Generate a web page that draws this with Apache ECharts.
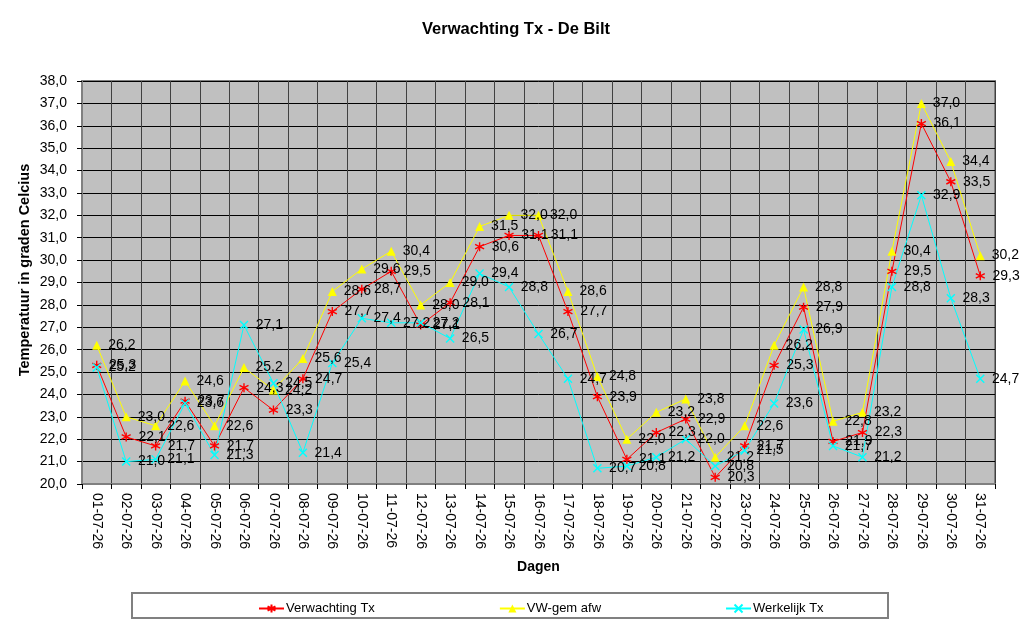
<!DOCTYPE html>
<html lang="nl">
  <head>
    <meta charset="UTF-8" />
    <title>Verwachting Tx - De Bilt</title>
    <style>
      body {
        margin: 0;
        background: #fff;
      }
      #chart {
        width: 1024px;
        height: 627px;
      }
    </style>
    <script src="https://cdn.jsdelivr.net/npm/echarts@6/dist/echarts.min.js"></script>
  </head>
  <body>
    <div id="chart"></div>
    <script>
      // dagen
      const dagen = [
        "01-07-26", "02-07-26", "03-07-26", "04-07-26", "05-07-26", "06-07-26",
        "07-07-26", "08-07-26", "09-07-26", "10-07-26", "11-07-26", "12-07-26",
        "13-07-26", "14-07-26", "15-07-26", "16-07-26", "17-07-26", "18-07-26",
        "19-07-26", "20-07-26", "21-07-26", "22-07-26", "23-07-26", "24-07-26",
        "25-07-26", "26-07-26", "27-07-26", "28-07-26", "29-07-26", "30-07-26",
        "31-07-26",
      ];
      const verwachting = [
        25.3, 22.1, 21.7, 23.7, 21.7, 24.3, 23.3, 24.7, 27.7, 28.7, 29.5, 27.1,
        28.1, 30.6, 31.1, 31.1, 27.7, 23.9, 21.1, 22.3, 22.9, 20.3, 21.7, 25.3,
        27.9, 21.9, 22.3, 29.5, 36.1, 33.5, 29.3,
      ];
      const vwGemAfw = [
        26.2, 23.0, 22.6, 24.6, 22.6, 25.2, 24.2, 25.6, 28.6, 29.6, 30.4, 28.0,
        29.0, 31.5, 32.0, 32.0, 28.6, 24.8, 22.0, 23.2, 23.8, 21.2, 22.6, 26.2,
        28.8, 22.8, 23.2, 30.4, 37.0, 34.4, 30.2,
      ];
      const werkelijk = [
        25.2, 21.0, 21.1, 23.6, 21.3, 27.1, 24.5, 21.4, 25.4, 27.4, 27.2, 27.2,
        26.5, 29.4, 28.8, 26.7, 24.7, 20.7, 20.8, 21.2, 22.0, 20.8, 21.5, 23.6,
        26.9, 21.7, 21.2, 28.8, 32.9, 28.3, 24.7,
      ];

      const font = "Liberation Sans, Arial, sans-serif";
      const komma = (v) => Number(v).toFixed(1).replace(".", ",");

      const sterPad = "path://M5,0L5,10M0,2.5L10,7.5M0,7.5L10,2.5";
      const kruisPad = "path://M0,0L10,10M10,0L0,10";

      function reeks(name, data, color, symbol, size, filled) {
        return {
          name: name,
          type: "line",
          data: data,
          symbol: symbol,
          symbolSize: size,
          lineStyle: { color: color, width: 1 },
          itemStyle: {
            color: filled ? color : "rgba(0,0,0,0)",
            borderColor: color,
            borderWidth: filled ? 0 : 1.4,
          },
          label: {
            show: true,
            position: "right",
            distance: 7,
            color: "#000",
            fontFamily: font,
            fontSize: 14,
            formatter: (p) => komma(p.value),
          },
          emphasis: { disabled: true },
          animation: false,
        };
      }

      var myChart = echarts.init(document.getElementById("chart"));
      myChart.setOption({
        backgroundColor: "#fff",
        title: {
          text: "Verwachting Tx - De Bilt",
          left: 511,
          textAlign: "center",
          top: 16,
          textStyle: { fontFamily: font, fontSize: 16.5, fontWeight: "bold", color: "#000" },
        },
        graphic: [
          {
            type: "rect",
            shape: { x: 132, y: 593, width: 756, height: 25 },
            style: { fill: "#fff", stroke: "#808080", lineWidth: 2 },
            z: 0,
          },
          {
            // y-as titel
            type: "text",
            x: 25,
            y: 270,
            rotation: Math.PI / 2,
            style: {
              text: "Temperatuur in graden Celcius",
              fontFamily: font,
              fontSize: 14.5,
              fontWeight: "bold",
              fill: "#000",
              align: "center",
              verticalAlign: "middle",
            },
          },
        ],
        legend: {
          left: 253,
          top: 597,
          itemGap: 124,
          itemWidth: 25,
          itemHeight: 10,
          textStyle: { fontFamily: font, fontSize: 13, color: "#000", padding: [0, 0, 0, -3] },
          data: ["Verwachting Tx", "VW-gem afw", "Werkelijk Tx"],
          selectedMode: false,
        },
        grid: {
          left: 82,
          top: 81,
          right: 29,
          bottom: 143,
          show: true,
          backgroundColor: "#c0c0c0",
          borderColor: "#808080",
          borderWidth: 2,
        },
        xAxis: {
          type: "category",
          data: dagen,
          boundaryGap: true,
          name: "Dagen",
          nameLocation: "middle",
          nameGap: 76,
          nameTextStyle: { fontFamily: font, fontSize: 14, fontWeight: "bold", color: "#000" },
          axisLine: { lineStyle: { color: "#808080", width: 2 } },
          axisTick: { show: true, length: 5, lineStyle: { color: "#000" } },
          axisLabel: {
            rotate: -90,
            margin: 9,
            interval: 0,
            fontFamily: font,
            fontSize: 14,
            color: "#000",
          },
          splitLine: { show: true, interval: 0, lineStyle: { color: "#404040", width: 1 } },
        },
        yAxis: {
          type: "value",
          min: 20,
          max: 38,
          interval: 1,
          axisLine: { show: true, lineStyle: { color: "#808080", width: 2 } },
          axisTick: { show: true, length: 5, lineStyle: { color: "#000" } },
          axisLabel: {
            margin: 15,
            fontFamily: font,
            fontSize: 14,
            color: "#000",
            formatter: komma,
          },
          splitLine: { show: true, lineStyle: { color: "#000", width: 1 } },
        },
        series: [
          reeks("Verwachting Tx", verwachting, "#ff0000", sterPad, 9, false),
          reeks("VW-gem afw", vwGemAfw, "#ffff00", "triangle", 9, true),
          reeks("Werkelijk Tx", werkelijk, "#00ffff", kruisPad, 8, false),
        ],
      });
    </script>
  </body>
</html>
